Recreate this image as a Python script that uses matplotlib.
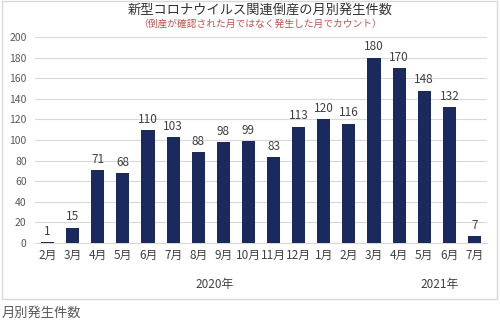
import matplotlib
matplotlib.use("Agg")
import matplotlib.pyplot as plt
from matplotlib.patches import Rectangle

plt.rcParams['font.family'] = ['Noto Sans CJK JP', 'DejaVu Sans']

# datos del grafico
meses = ["2月", "3月", "4月", "5月", "6月", "7月", "8月", "9月", "10月", "11月",
         "12月", "1月", "2月", "3月", "4月", "5月", "6月", "7月"]
casos = [1, 15, 71, 68, 110, 103, 88, 98, 99, 83, 113, 120, 116, 180, 170, 148, 132, 7]
anios = ["2020年", "2021年"]

fig = plt.figure(figsize=(5, 3.26), dpi=100)
# marco del grafico
fig.patches.append(Rectangle((0.004, 0.083), 0.99, 0.915, transform=fig.transFigure,
                             fill=False, edgecolor="#d9d9d9", linewidth=1))

ax = fig.add_axes([0.07, 0.2546, 0.904, 0.632])
x = range(len(casos))
ax.bar(x, casos, width=0.52, color="#1b2a5e", zorder=3)
for i, v in enumerate(casos):
    ax.text(i, v + 4, str(v), ha="center", va="bottom", fontsize=8.5, color="#404040")

ax.set_xlim(-0.5, len(casos) - 0.5)
ax.set_ylim(0, 200)
ax.set_yticks(range(0, 201, 20))
ax.set_xticks(list(x))
ax.set_xticklabels(meses, fontsize=8.5, color="#404040")
ax.tick_params(axis="y", labelsize=7.5, labelcolor="#595959", length=0, pad=6)
ax.tick_params(axis="x", length=0, pad=4)
ax.grid(axis="y", color="#d9d9d9", linewidth=0.8, zorder=0)
for s in ["top", "right", "left"]:
    ax.spines[s].set_visible(False)
ax.spines["bottom"].set_color("#d9d9d9")

fig.text(0.43, 0.128, anios[0], ha="center", va="center", fontsize=8.5, color="#404040")
fig.text(0.88, 0.128, anios[1], ha="center", va="center", fontsize=8.5, color="#404040")

fig.text(0.52, 0.968, "新型コロナウイルス関連倒産の月別発生件数", ha="center", va="center",
         fontsize=9.5, color="#333333")
fig.text(0.52, 0.928, "（倒産が確認された月ではなく発生した月でカウント）", ha="center", va="center",
         fontsize=7, color="#c0504d")

fig.text(0.004, 0.04, "月別発生件数", ha="left", va="center", fontsize=9.5, color="#595959")

plt.savefig("out.png", dpi=100)
